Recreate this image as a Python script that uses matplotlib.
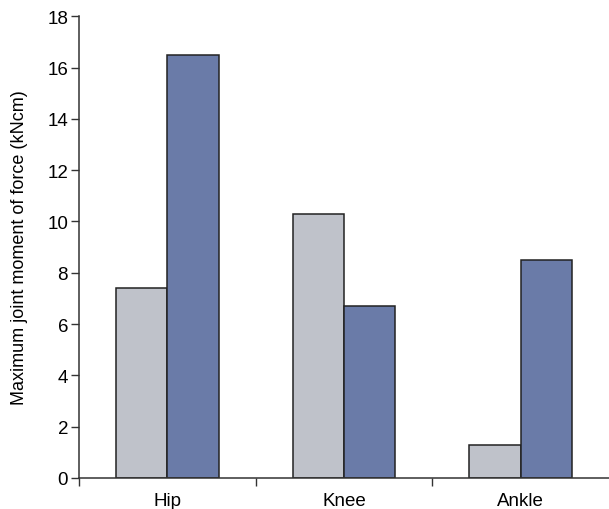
import numpy as np
import matplotlib
matplotlib.use("Agg")
import matplotlib.pyplot as plt

plt.rcParams['font.family'] = ['Liberation Sans', 'DejaVu Sans']

# data
joints = ['Hip', 'Knee', 'Ankle']
series_a = [7.4, 10.3, 1.3]    # light grey bars
series_b = [16.5, 6.7, 8.5]    # blue bars
yticks = [0, 2, 4, 6, 8, 10, 12, 14, 16, 18]

fig = plt.figure(figsize=(6.09, 5.10), dpi=100)
ax = fig.add_axes([0.130, 0.061, 0.870, 0.905])

x = np.arange(len(joints)) + 0.5
w = 0.29
ax.bar(x - w / 2, series_a, w, color='#bfc2ca', edgecolor='#222222', linewidth=1.1, zorder=2)
ax.bar(x + w / 2, series_b, w, color='#6a7ba8', edgecolor='#222222', linewidth=1.1, zorder=2)

ax.set_xlim(0, 3)
ax.set_ylim(0, 18)
ax.set_yticks(yticks)
ax.set_xticks([0, 1, 2])
ax.set_xticklabels([])
ax.set_xticks(x, minor=True)
ax.set_xticklabels(joints, minor=True)
ax.tick_params(axis='x', which='minor', length=0, pad=10, labelsize=13.5)
ax.tick_params(axis='x', which='major', length=6, width=1, color='#333333')
ax.tick_params(axis='y', length=6, width=1, color='#333333', labelsize=13.5, pad=2)

for s in ['top', 'right']:
    ax.spines[s].set_visible(False)
for s in ['left', 'bottom']:
    ax.spines[s].set_color('#333333')
    ax.spines[s].set_linewidth(1.1)

ax.set_ylabel('Maximum joint moment of force (kNcm)', fontsize=13, labelpad=14)

fig.savefig('out.png', dpi=100)
